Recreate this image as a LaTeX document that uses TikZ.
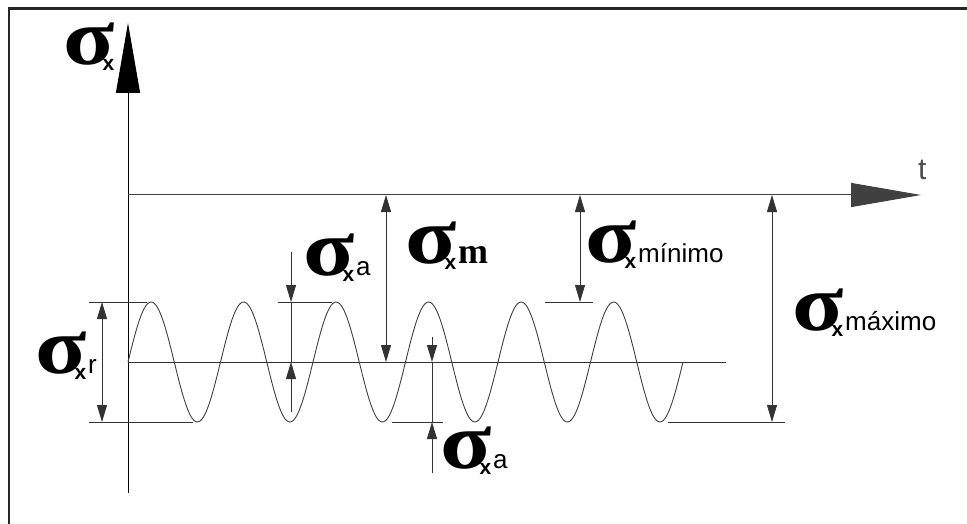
\documentclass[tikz,border=0pt]{standalone}
\usepackage{fontspec}
\usepackage{graphicx}
\setmainfont{Liberation Serif}
\newfontfamily\ssf{Liberation Sans}
\usetikzlibrary{arrows.meta}
\newcommand{\sigg}{\scalebox{1.18}[1]{\fontsize{80}{80}\selectfont\bfseries σ}}
\newcommand{\xsub}{\raisebox{-6pt}{\ssf\bfseries\fontsize{21}{21}\selectfont x}}
\newcommand{\slab}[1]{\sigg\kern-12pt\xsub\kern2pt{\ssf\fontsize{26}{26}\selectfont #1}}
\begin{document}
\begin{tikzpicture}[x=1pt,y=-1pt,
  thinl/.style={line width=0.9pt, black!80},
  dimtip/.style={-{Triangle[length=17pt,width=10pt]}},
  dimtips/.style={{Triangle[length=17pt,width=10pt]}-{Triangle[length=17pt,width=10pt]}},
  bigtip/.style={-{Triangle[length=70pt,width=24pt]}},
  lab/.style={anchor=base west, inner sep=0pt}]
\useasboundingbox (0,0) rectangle (967,524);
% frame
\draw[line width=2.5pt, black!85] (9,524) -- (9,8.5) -- (967,8.5);
% axes
\coordinate (ybot) at (128,493);
\coordinate (ytop) at (128,23);
\coordinate (O) at (128,195);
\coordinate (xend) at (921,195);
\draw[line width=1pt, bigtip] (ybot) -- (ytop);
\draw[line width=1pt, black!75, bigtip] (O) -- (xend);
% mean line and wave
\coordinate (m0) at (128,362);
\coordinate (m1) at (726,362);
\draw[thinl] (m0) -- (m1);
\draw[line width=0.9pt, black!75] plot[domain=0:555, samples=400, smooth] ({128+\x},{362-60*sin(\x*3.891892)});
% reference lines
\draw[thinl] (89,302) -- (147,302);
\draw[thinl] (89,422) -- (193,422);
\draw[thinl] (278,302) -- (332,302);
\draw[thinl] (545,302) -- (593,302);
\draw[thinl] (392,422) -- (443,422);
\draw[thinl] (668,422) -- (785,422);
% dimension lines
\draw[thinl, dimtips] (102,302) -- (102,422);
\draw[thinl, dimtip] (291,252) -- (291,302);
\draw[thinl] (291,302) -- (291,362);
\draw[thinl, dimtip] (291,412) -- (291,362);
\draw[thinl, dimtips] (386,195) -- (386,362);
\draw[thinl, dimtips] (580,195) -- (580,302);
\draw[thinl, dimtips] (772,195) -- (772,422);
\draw[thinl, dimtip] (432,337) -- (432,362);
\draw[thinl] (432,362) -- (432,422);
\draw[thinl, dimtip] (432,473) -- (432,422);
% labels
\node[lab] (ls) at (63,65) {\sigg\kern-12pt\xsub};
\node[lab] (lr) at (35,373) {\slab{r}};
\node[lab] (la1) at (303,275) {\slab{a}};
\node[lab] (lm) at (405,263) {\sigg\kern-12pt\xsub\kern2pt{\fontsize{36}{36}\selectfont\bfseries m}};
\node[lab] (lmin) at (585,262) {\slab{mínimo}};
\node[lab] (lmax) at (792,330) {\slab{máximo}};
\node[lab] (la2) at (440,468) {\slab{a}};
\node[lab, black!70] (lt) at (918,180) {\ssf\fontsize{30}{30}\selectfont t};
\end{tikzpicture}
\end{document}
